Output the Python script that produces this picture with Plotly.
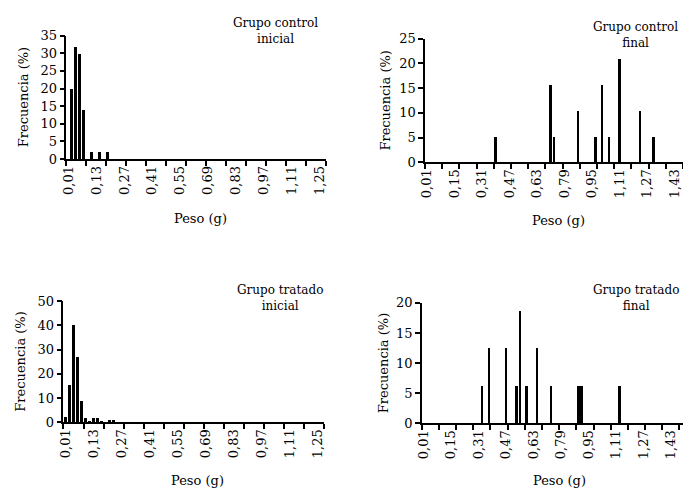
import plotly.graph_objects as go

# ---- data (Peso in g, Frecuencia in %) ----
ci_peso = [0.03, 0.05, 0.07, 0.09, 0.13, 0.17, 0.21]
ci_freq = [20, 32, 30, 14, 2, 2, 2]

cf_peso = [0.41, 0.73, 0.75, 0.89, 0.99, 1.03, 1.07, 1.13, 1.25, 1.33]
cf_freq = [5.26, 15.79, 5.26, 10.53, 5.26, 15.79, 5.26, 21.05, 10.53, 5.26]

ti_peso = [0.01, 0.03, 0.05, 0.07, 0.09, 0.11, 0.13, 0.15, 0.17, 0.19, 0.23, 0.25]
ti_freq = [2.3, 15.5, 40, 26.8, 8.8, 1.8, 0.4, 1.8, 1.8, 0.4, 0.9, 0.9]

tf_peso = [0.35, 0.39, 0.49, 0.55, 0.57, 0.61, 0.67, 0.75, 0.91, 0.93, 1.15]
tf_freq = [6.25, 12.5, 12.5, 6.25, 18.75, 6.25, 12.5, 6.25, 6.25, 6.25, 6.25]

left_ticktext = ["0,01", "0,13", "0,27", "0,41", "0,55", "0,69", "0,83", "0,97", "1,11", "1,25"]
right_ticktext = ["0,01", "0,15", "0,31", "0,47", "0,63", "0,79", "0,95", "1,11", "1,27", "1,43"]

titles = ["Grupo control<br>inicial", "Grupo control<br>final",
          "Grupo tratado<br>inicial", "Grupo tratado<br>final"]

OFF = 8  # default page margin of the html body
W, H = 691 - OFF, 494 - OFF
FONT = "DejaVu Serif"
FS = 13

def fx(px):
    return (px - OFF) / W

def fy(py):
    return 1 - (py - OFF) / H

panels = [
    dict(x=ci_peso, y=ci_freq, tt=left_ticktext, step=0.14, xp=(61, 323), yp=(29.3, 156.7),
         xr=1.30, ym=35, yd=5, tpos=(272, 25), xt=218, yt=17),
    dict(x=cf_peso, y=cf_freq, tt=right_ticktext, step=0.16, xp=(423.3, 684), yp=(32.3, 160),
         xr=1.50, ym=25, yd=5, tpos=(636, 29), xt=220, yt=383),
    dict(x=ti_peso, y=ti_freq, tt=left_ticktext, step=0.14, xp=(58, 321), yp=(303.3, 428.3),
         xr=1.30, ym=50, yd=10, tpos=(277, 300), xt=488, yt=15),
    dict(x=tf_peso, y=tf_freq, tt=right_ticktext, step=0.16, xp=(420, 690), yp=(305, 429.3),
         xr=1.556, ym=20, yd=5, tpos=(636, 300), xt=488, yt=381),
]

fig = go.Figure()
annotations = []
for i, p in enumerate(panels, start=1):
    xa = "x" if i == 1 else f"x{i}"
    ya = "y" if i == 1 else f"y{i}"
    fig.add_trace(go.Bar(x=p["x"], y=p["y"], width=0.015, marker=dict(color="black", line=dict(width=0)),
                         xaxis=xa, yaxis=ya, showlegend=False, hoverinfo="x+y"))
    tickvals = [0.01 + p["step"] * k for k in range(len(p["tt"]))]
    xkey = "xaxis" if i == 1 else f"xaxis{i}"
    ykey = "yaxis" if i == 1 else f"yaxis{i}"
    fig.layout[xkey] = dict(
        domain=[fx(p["xp"][0]), min(1, fx(p["xp"][1]))], anchor=ya, range=[0, p["xr"]],
        tickmode="array", tickvals=tickvals, ticktext=p["tt"], tickangle=-90,
        ticks="", showline=True, linecolor="black", linewidth=1.5, showgrid=False,
        zeroline=False, tickfont=dict(family=FONT, size=FS, color="black"),
        minor=dict(tickmode="linear", tick0=0, dtick=0.1, ticks="outside", ticklen=5,
                   tickcolor="black", tickwidth=1.5, showgrid=False),
    )
    fig.layout[ykey] = dict(
        domain=[fy(p["yp"][1]), fy(p["yp"][0])], anchor=xa, range=[0, p["ym"]],
        tickmode="linear", tick0=0, dtick=p["yd"], ticks="outside", ticklen=5,
        tickcolor="black", tickwidth=1.5, showline=True, linecolor="black", linewidth=1.5,
        showgrid=False, zeroline=False, tickfont=dict(family=FONT, size=FS, color="black"),
    )
    annotations.append(dict(text=titles[i - 1], x=fx(p["tpos"][0]), y=fy(p["tpos"][1]),
                            xref="paper", yref="paper", showarrow=False, align="center",
                            xanchor="center", yanchor="middle",
                            font=dict(family=FONT, size=12, color="black")))
    annotations.append(dict(text="Peso (g)", x=fx((p["xp"][0] + p["xp"][1]) / 2 + 4), y=fy(p["xt"]),
                            xref="paper", yref="paper", showarrow=False,
                            xanchor="center", yanchor="middle",
                            font=dict(family=FONT, size=FS, color="black")))
    annotations.append(dict(text="Frecuencia (%)", x=fx(p["yt"]), y=fy((p["yp"][0] + p["yp"][1]) / 2),
                            xref="paper", yref="paper", showarrow=False, textangle=-90,
                            xanchor="center", yanchor="middle",
                            font=dict(family=FONT, size=FS, color="black")))

fig.update_layout(width=W, height=H, margin=dict(l=0, r=0, t=0, b=0),
                  paper_bgcolor="white", plot_bgcolor="white", bargap=0,
                  annotations=annotations)

fig.write_html("out.html")
